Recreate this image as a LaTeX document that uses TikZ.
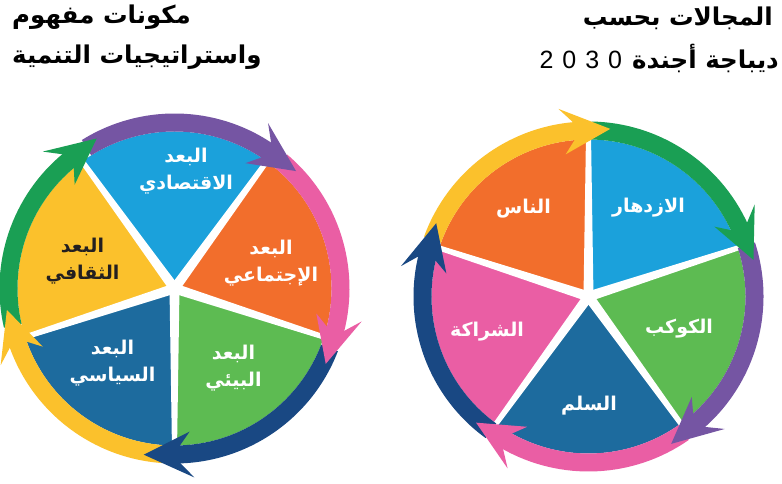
\documentclass[tikz,border=0pt]{standalone}
\usepackage{fontspec}
\usetikzlibrary{calc}
\TeXXeTstate=1
\newfontfamily\arb[Script=Arabic]{DejaVu Sans}
\newfontfamily\latf{Liberation Sans}
\definecolor{bluec}{HTML}{1BA1DB}
\definecolor{orangec}{HTML}{F26E2C}
\definecolor{lgreen}{HTML}{5DBB52}
\definecolor{dblue}{HTML}{1D6B9E}
\definecolor{yellowc}{HTML}{FBC12C}
\definecolor{purplec}{HTML}{7555A3}
\definecolor{pinkc}{HTML}{EA5EA4}
\definecolor{navyc}{HTML}{194883}
\definecolor{dgreen}{HTML}{1A9F54}
\definecolor{darktext}{HTML}{231F20}
\newcommand\wslice[4]{\fill[#4, shift={(#1)}] (0,0) -- (#2:157pt) arc[start angle=#2, end angle=#3, radius=157pt] -- cycle;}
\newcommand\wsep[2]{\fill[white, shift={(#1)}, rotate=#2] (0,-5) -- (162,-2.5) -- (162,2.5) -- (0,5) -- cycle;}
\newcommand\wband[4]{\draw[#4, line width=18pt, shift={(#1)}] (#2:166pt) arc[start angle=#2, end angle=#3, radius=166pt];}
\newcommand\whead[3]{\fill[#3, shift={(#1)}] (#2:169pt) -- ({#2+16.5}:190pt) -- ({#2+12.5}:175pt) -- ({#2+12.5}:157pt) -- ({#2+16.5}:144pt) -- cycle;}
\tikzset{
  ttl/.style={inner sep=0pt, text=black, font=\arb\bfseries\fontsize{24.5}{28}\selectfont},
  lbl/.style={inner sep=0pt, text=white, align=center, font=\arb\bfseries\fontsize{19}{27}\selectfont},
}
\begin{document}
\begin{tikzpicture}[x=1pt,y=1pt]
\useasboundingbox (0,0) rectangle (782,484);
\fill[white] (0,0) rectangle (782,484);
\coordinate (C1) at (174.5,195.5);
\coordinate (C2) at (588.5,187.5);
% left wheel slices
\wslice{C1}{54}{126}{bluec}
\wslice{C1}{-18}{54}{orangec}
\wslice{C1}{-90}{-18}{lgreen}
\wslice{C1}{-162}{-90}{dblue}
\wslice{C1}{126}{198}{yellowc}
\foreach \a in {126,54,-18,-90,198} {\wsep{C1}{\a}}
\fill[white] (C1) circle (7pt);
% right wheel slices
\wslice{C2}{18}{90}{bluec}
\wslice{C2}{-54}{18}{lgreen}
\wslice{C2}{-126}{-54}{dblue}
\wslice{C2}{162}{234}{pinkc}
\wslice{C2}{90}{162}{orangec}
\foreach \a in {90,18,-54,-126,162} {\wsep{C2}{\a}}
\fill[white] (C2) circle (7pt);
% left bands
\wband{C1}{122}{56}{purplec}
\wband{C1}{50}{-14.5}{pinkc}
\wband{C1}{-21}{-88.5}{navyc}
\wband{C1}{-94}{-160.7}{yellowc}
\wband{C1}{-167}{-230.6}{dgreen}
% right bands
\wband{C2}{160}{94.6}{yellowc}
\wband{C2}{89}{24.5}{dgreen}
\wband{C2}{18}{-48.7}{purplec}
\wband{C2}{-55}{-119.7}{pinkc}
\wband{C2}{-126}{-193.7}{navyc}
% heads
\whead{C1}{44}{purplec}
\whead{C1}{-26.5}{pinkc}
\whead{C1}{-100.5}{navyc}
\whead{C1}{-172.7}{yellowc}
\whead{C1}{-242.6}{dgreen}
\whead{C2}{82.6}{yellowc}
\whead{C2}{12.5}{dgreen}
\whead{C2}{-60.7}{purplec}
\whead{C2}{-131.7}{pinkc}
\whead{C2}{-205.7}{navyc}
% left labels
\node[lbl] (la) at (186,312.5) {\beginR البعد\endR\\\beginR الاقتصادي\endR};
\node[lbl] (lb) at (271,221) {\beginR البعد\endR\\\beginR الإجتماعي\endR};
\node[lbl, text=darktext] (lc) at (82.5,223) {\beginR البعد\endR\\\beginR الثقافي\endR};
\node[lbl] (ld) at (112.5,120.5) {\beginR البعد\endR\\\beginR السياسي\endR};
\node[lbl] (le) at (233.5,115.5) {\beginR البعد\endR\\\beginR البيئي\endR};
% right labels
\node[lbl] (ra) at (648.5,276) {\beginR الازدهار\endR};
\node[lbl] (rb) at (523.5,275) {\beginR الناس\endR};
\node[lbl] (rc) at (679,155) {\beginR الكوكب\endR};
\node[lbl] (rd) at (487,152) {\beginR الشراكة\endR};
\node[lbl] (re) at (589,78) {\beginR السلم\endR};
% titles
\node[ttl, anchor=west] (t1) at (12,466.5) {\beginR مكونات مفهوم\endR};
\node[ttl, anchor=west] (t2) at (12,427) {\beginR واستراتيجيات التنمية\endR};
\node[ttl, anchor=east] (t3) at (773,466) {\beginR المجالات بحسب\endR};
\node[ttl, anchor=east] (t4) at (779,426) {\beginR ديباجة أجندة\hspace{10pt}\beginL{\latf\mdseries\fontsize{25}{28}\selectfont 2\kern9pt 0\kern9pt 3\kern9pt 0}\endL\endR};
\end{tikzpicture}
\end{document}
